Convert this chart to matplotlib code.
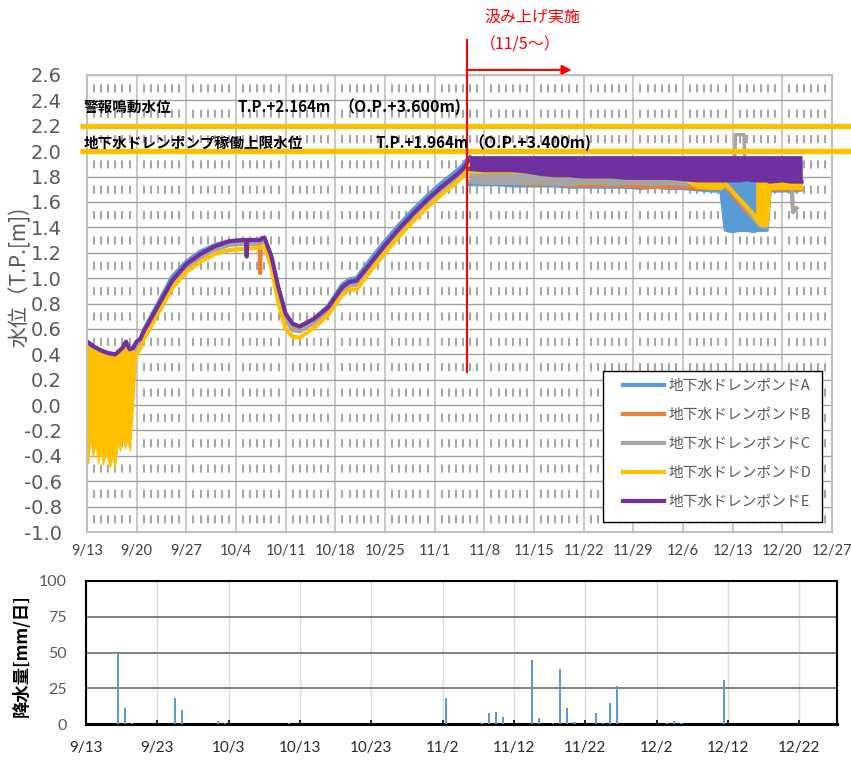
import numpy as np
import matplotlib
matplotlib.use("Agg")
import matplotlib.pyplot as plt
from matplotlib.transforms import blended_transform_factory
from matplotlib.patches import Rectangle
from datetime import date

plt.rcParams['font.family'] = ['Noto Sans CJK JP', 'DejaVu Sans']
plt.rcParams['lines.scale_dashes'] = False

# ---------------- data ----------------
# top chart: x in days since 9/13
week_ticks = [0, 7, 14, 21, 28, 35, 42, 49, 56, 63, 70, 77, 84, 91, 98, 105]
week_labels = ["9/13", "9/20", "9/27", "10/4", "10/11", "10/18", "10/25", "11/1",
               "11/8", "11/15", "11/22", "11/29", "12/6", "12/13", "12/20", "12/27"]
y_ticks = [-1.0, -0.8, -0.6, -0.4, -0.2, 0.0, 0.2, 0.4, 0.6, 0.8, 1.0, 1.2,
           1.4, 1.6, 1.8, 2.0, 2.2, 2.4, 2.6]

series_names = ["地下水ドレンポンドA", "地下水ドレンポンドB", "地下水ドレンポンドC",
                "地下水ドレンポンドD", "地下水ドレンポンドE"]
series_colors = ["#5b9bd5", "#ed7d31", "#a5a5a5", "#ffc000", "#7030a0"]

# gradual (non-pumping) period
t_main = [0, 1, 2, 3, 4, 5, 5.5, 6, 6.5, 7, 7.5, 8, 10, 12, 14, 16, 18, 20, 22,
          22.4, 22.5, 22.6, 24, 24.3, 24.4, 24.5, 25, 26, 27, 28, 29, 30, 32, 34,
          36, 37, 38, 40, 42, 44, 46, 48, 50, 52, 53, 53.5, 54]
a_main = [0.48, 0.44, 0.41, 0.39, 0.38, 0.43, 0.48, 0.42, 0.43, 0.48, 0.51, 0.59,
          0.80, 1.01, 1.13, 1.21, 1.26, 1.29, 1.30, 1.30, 1.30, 1.30, 1.30, 1.30,
          1.30, 1.30, 1.31, 1.15, 0.90, 0.70, 0.62, 0.61, 0.68, 0.78, 0.95, 0.99,
          1.00, 1.15, 1.29, 1.42, 1.54, 1.65, 1.75, 1.84, 1.89, 1.93, 1.95]
b_main = [0.47, 0.44, 0.41, 0.39, 0.38, 0.43, 0.47, 0.42, 0.43, 0.47, 0.50, 0.56,
          0.76, 0.96, 1.09, 1.17, 1.23, 1.27, 1.28, 1.28, 1.28, 1.28, 1.28, 1.28,
          1.04, 1.28, 1.30, 1.14, 0.88, 0.68, 0.60, 0.59, 0.66, 0.75, 0.91, 0.95,
          0.96, 1.10, 1.24, 1.37, 1.49, 1.60, 1.70, 1.79, 1.84, 1.88, 1.93]
c_main = [0.47, 0.43, 0.40, 0.38, 0.37, 0.42, 0.47, 0.41, 0.42, 0.47, 0.49, 0.55,
          0.75, 0.95, 1.08, 1.16, 1.22, 1.26, 1.27, 1.27, 1.27, 1.27, 1.27, 1.27,
          1.27, 1.27, 1.29, 1.13, 0.87, 0.67, 0.59, 0.58, 0.65, 0.74, 0.90, 0.94,
          0.95, 1.09, 1.23, 1.36, 1.48, 1.59, 1.69, 1.78, 1.83, 1.87, 1.92]
d_main = [0.45, 0.42, 0.39, 0.37, 0.36, 0.41, 0.46, 0.40, 0.41, 0.40, 0.45, 0.52,
          0.72, 0.92, 1.05, 1.13, 1.19, 1.22, 1.23, 1.23, 1.23, 1.23, 1.24, 1.24,
          1.24, 1.24, 1.26, 1.08, 0.80, 0.60, 0.54, 0.53, 0.61, 0.71, 0.87, 0.91,
          0.91, 1.06, 1.20, 1.33, 1.45, 1.56, 1.66, 1.75, 1.80, 1.85, 1.90]
e_main = [0.50, 0.46, 0.43, 0.41, 0.40, 0.45, 0.50, 0.44, 0.45, 0.50, 0.52, 0.58,
          0.78, 0.98, 1.11, 1.19, 1.25, 1.29, 1.30, 1.30, 1.17, 1.30, 1.30, 1.30,
          1.30, 1.31, 1.32, 1.17, 0.92, 0.72, 0.64, 0.62, 0.68, 0.77, 0.93, 0.97,
          0.98, 1.12, 1.26, 1.39, 1.51, 1.62, 1.72, 1.81, 1.86, 1.90, 1.95]

# pond D oscillation in the first week (envelope)
d_osc_t = [0, 0.15, 0.5, 0.85, 1.2, 1.55, 1.9, 2.25, 2.7, 3.25, 3.6, 3.95, 4.3,
           4.65, 5.0, 5.35, 5.7, 6.05, 6.35, 6.6, 6.9]
d_osc_lo = [-0.40, -0.46, -0.25, -0.41, -0.30, -0.46, -0.35, -0.47, -0.38, -0.49,
            -0.40, -0.50, -0.30, -0.36, -0.25, -0.34, -0.28, -0.36, -0.12, 0.10, 0.38]
d_osc_hi = [0.45, 0.44, 0.43, 0.42, 0.41, 0.40, 0.40, 0.39, 0.38, 0.37, 0.37, 0.36,
            0.38, 0.40, 0.41, 0.45, 0.42, 0.40, 0.40, 0.40, 0.40]

# pumping period (from 11/5): lower trace and upper envelope of pump cycling
nan = np.nan
t_pump = [54, 56, 58, 60, 62, 64, 66, 68, 70, 72, 74, 76, 78, 80, 82, 84, 86, 88,
          89.4, 90, 91, 92, 93, 94, 94.4, 95, 95.8, 96.2, 98, 99.3, 99.5, 100, 100.7]
a_lo = [1.74, 1.74, 1.74, 1.73, 1.73, 1.73, 1.73, 1.72, 1.72, 1.72, 1.72, 1.72,
        1.71, 1.72, 1.71, 1.71, 1.70, 1.69, 1.69, 1.38, 1.37, 1.38, 1.38, 1.37,
        1.38, 1.38, 1.38, 1.69, 1.69, 1.69, 1.69, 1.69, 1.70]
a_hi = [1.92] * 33
b_lo = [1.76, 1.76, 1.75, 1.75, 1.74, 1.74, 1.74, 1.73, 1.73, 1.73, 1.73, 1.73,
        1.72, 1.72, 1.72, 1.72, 1.71, 1.71, 1.71, 1.73, 1.66, 1.59, 1.52, 1.47,
        1.45, 1.43, 1.42, 1.70, 1.70, 1.70, 1.70, 1.70, 1.70]
b_hi = [1.93] * 19 + [nan] * 8 + [1.93] * 6
c_lo = [1.76, 1.75, 1.75, 1.75, 1.75, 1.75, 1.74, 1.74, 1.75, 1.75, 1.74, 1.75,
        1.75, 1.74, 1.75, 1.74, 1.74, 1.74, 1.75, 1.75, 1.68, 1.61, 1.54, 1.47,
        1.44, 1.41, 1.40, 1.74, 1.74, 1.74, 1.52, 1.55, nan]
c_hi = [1.93] * 19 + [nan] * 8 + [1.93] * 3 + [nan] * 3
d_lo = [1.84, 1.84, 1.84, 1.84, 1.84, 1.82, 1.81, 1.81, 1.80, 1.80, 1.80, 1.80,
        1.80, 1.80, 1.80, 1.79, 1.72, 1.71, 1.71, 1.74, 1.68, 1.62, 1.56, 1.50,
        1.46, 1.42, 1.42, 1.71, 1.71, 1.71, 1.71, 1.71, 1.71]
d_hi = [1.93] * 19 + [nan] * 5 + [1.75] * 3 + [1.93] * 6
e_lo = [1.86, 1.85, 1.85, 1.85, 1.84, 1.82, 1.81, 1.81, 1.80, 1.80, 1.80, 1.79,
        1.79, 1.79, 1.79, 1.78, 1.77, 1.77, 1.77, 1.77, 1.77, 1.77, 1.78, 1.77,
        1.77, 1.77, 1.77, 1.76, 1.77, 1.76, 1.76, 1.76, 1.76]
e_hi = [1.96] * 33
# short excursion of pond C above the band
c_spike_t = [91.3, 91.4, 92.6, 92.7]
c_spike_y = [1.95, 2.13, 2.13, 1.95]

alarm_level = 2.2
pump_limit_level = 2.0
pump_start_day = 53.5

# bottom chart: daily rainfall
rain_ticks = [0, 10, 20, 30, 40, 50, 60, 70, 80, 90, 100]
rain_tick_labels = ["9/13", "9/23", "10/3", "10/13", "10/23", "11/2", "11/12",
                    "11/22", "12/2", "12/12", "12/22"]
rain_dates = ["9/17", "9/18", "9/19", "9/25", "9/26", "10/1", "10/2", "10/11",
              "11/2", "11/7", "11/8", "11/9", "11/10", "11/14", "11/15", "11/17",
              "11/18", "11/19", "11/20", "11/23", "11/24", "11/25", "11/26",
              "12/3", "12/4", "12/5", "12/11"]
rain_mm = [50, 11, 1, 18, 10, 2, 1, 0.5, 18.5, 0.5, 7.5, 8.5, 5, 44.5, 4, 1, 38.5,
           11, 1.5, 7.5, 0.5, 15, 26.5, 0.5, 2, 0.5, 31]


def day(md):
    m, d = map(int, md.split("/"))
    return (date(2021, m, d) - date(2021, 9, 13)).days


# ---------------- figure ----------------
W, H = 851, 765
fig = plt.figure(figsize=(W / 100, H / 100), dpi=100)
fig.patch.set_facecolor("white")


def fx(px):
    return px / W


def fy(py):
    return 1 - py / H


ax = fig.add_axes([fx(87), fy(532), (832 - 87) / W, (532 - 75) / H])
ax.set_xlim(0, 105)
ax.set_ylim(-1.0, 2.6)

# grid
ax.set_xticks(week_ticks)
ax.set_xticks([d for d in range(1, 105) if d % 7], minor=True)
ax.set_yticks(y_ticks)
ax.grid(which="major", axis="x", color="#bfbfbf", lw=1.2)
ax.grid(which="minor", axis="x", color="#a6a6a6", lw=1.5,
        linestyle=(12.0, (5.8, 12.45)))
ax.grid(which="major", axis="y", color="#a0a0a0", lw=1.0)
ax.set_axisbelow(True)
for s in ax.spines.values():
    s.set_color("#bfbfbf")
    s.set_linewidth(1.5)
ax.tick_params(which="both", length=0)
ax.tick_params(axis="x", pad=9, labelsize=10.5, labelcolor="#404040")
ax.tick_params(axis="y", pad=18, labelsize=14, labelcolor="#595959")
ax.set_xticklabels(week_labels, family=["Lato", "DejaVu Sans"])
ax.set_yticklabels([f"{v:.1f}" for v in y_ticks], family=["DejaVu Sans"])

mains = [a_main, b_main, c_main, d_main, e_main]
los = [a_lo, b_lo, c_lo, d_lo, e_lo]
his = [a_hi, b_hi, c_hi, d_hi, e_hi]
handles = []
for i in range(5):
    col = series_colors[i]
    z = 2 + i * 0.1
    h, = ax.plot(t_main, mains[i], color=col, lw=3, zorder=z, label=series_names[i])
    handles.append(h)
    ax.fill_between(t_pump, np.array(los[i], float), np.array(his[i], float),
                    color=col, lw=0.8, zorder=z)
    ax.plot(t_pump, los[i], color=col, lw=3, zorder=z)
    if i == 2:
        ax.plot(c_spike_t, c_spike_y, color=col, lw=2.5, zorder=z)
    if i == 3:
        ax.fill_between(d_osc_t, d_osc_lo, d_osc_hi, color=col, lw=0.8, zorder=z)

# threshold lines spanning the figure width
tr = blended_transform_factory(fig.transFigure, ax.transData)
for lvl in (alarm_level, pump_limit_level):
    ax.plot([fx(80), 1.0], [lvl, lvl], color="#ffc000", lw=3.8, transform=tr,
            clip_on=False, zorder=5, solid_capstyle="butt")

label_kw = dict(fontweight="bold", color="black", va="center", ha="left", zorder=7)
fig.text(fx(84), fy(107), "警報鳴動水位", fontsize=10.5, **label_kw)
fig.text(fx(237), fy(107), "T.P.+2.164m", fontsize=10.8, **label_kw)
fig.text(fx(338), fy(107), "（O.P.+3.600m)", fontsize=11.5, **label_kw)
fig.text(fx(84), fy(143), "地下水ドレンポンプ稼働上限水位", fontsize=10.5, **label_kw)
fig.text(fx(376), fy(143), "T.P.+1.964m", fontsize=10.8, **label_kw)
fig.text(fx(468), fy(143), "（O.P.+3.400m)", fontsize=11.5, **label_kw)

# pumping start marker
ax.plot([pump_start_day, pump_start_day], [0.26, 2.876], color="#ff0000", lw=1.5,
        clip_on=False, zorder=6)
ax.annotate("", xy=(68.3, 2.64), xytext=(pump_start_day, 2.64),
            xycoords="data", textcoords="data", annotation_clip=False,
            arrowprops=dict(arrowstyle="-|>", color="#ff0000", lw=1.5,
                            mutation_scale=14, shrinkA=0, shrinkB=0))
fig.text(fx(484), fy(18), "汲み上げ実施", fontsize=11.5, color="#ff0000",
         va="center", ha="left")
fig.text(fx(480), fy(45), "（11/5～）", fontsize=11.5, color="#ff0000",
         va="center", ha="left")

fig.text(fx(20), fy(277), "水位（T.P.[m])", fontsize=15, color="#595959",
         rotation=90, va="center", ha="center")

# legend: white framed box + entries
box = Rectangle((fx(603), fy(522)), (822 - 603) / W, (522 - 371) / H,
                transform=fig.transFigure, facecolor="white", edgecolor="black",
                lw=1.0, zorder=1)
fig.add_artist(box)
leg = fig.legend(handles=handles, loc="upper left",
                 bbox_to_anchor=(fx(623), fy(379)), bbox_transform=fig.transFigure,
                 borderaxespad=0, borderpad=0, fontsize=10.6, frameon=False,
                 labelspacing=1.02, handlelength=2.8, handletextpad=0.32)
leg.set_zorder(2)
for txt in leg.get_texts():
    txt.set_color("#595959")

# ---------------- rainfall ----------------
ax2 = fig.add_axes([fx(86), fy(724), (837 - 86) / W, (724 - 581) / H])
ax2.set_xlim(0, 105.3)
ax2.set_ylim(0, 100)
ax2.bar([day(d) + 0.5 for d in rain_dates], rain_mm, width=0.3, color="#5b9bd5",
        zorder=3)
ax2.set_xticks(rain_ticks)
ax2.set_xticklabels(rain_tick_labels, family=["Lato", "DejaVu Sans"])
ax2.set_yticks([0, 25, 50, 75, 100])
ax2.set_yticklabels(["0", "25", "50", "75", "100"], family=["Lato", "DejaVu Sans"])
ax2.grid(axis="x", color="#d9d9d9", lw=1.0)
ax2.grid(axis="y", color="#808080", lw=1.4)
ax2.set_axisbelow(True)
for s in ax2.spines.values():
    s.set_color("black")
    s.set_linewidth(1.5)
ax2.spines["bottom"].set_linewidth(2.2)
ax2.tick_params(axis="x", direction="in", length=3, width=1.2, pad=12,
                labelsize=11, labelcolor="#262626")
ax2.tick_params(axis="y", length=0, pad=14, labelsize=11.5, labelcolor="#595959")
fig.text(fx(22), fy(656), "降水量[mm/日]", fontsize=12.5, fontweight="bold",
         color="black", rotation=90, va="center", ha="center")

fig.savefig("out.png", dpi=100, facecolor="white")
